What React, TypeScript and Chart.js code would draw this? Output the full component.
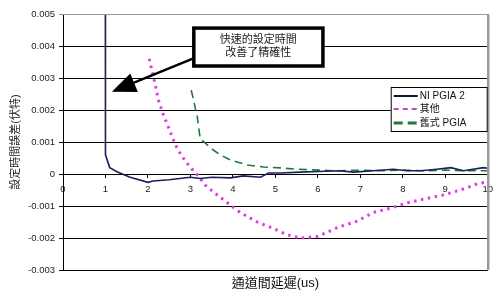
import React, { useEffect, useRef } from 'react';
import { Chart, registerables } from 'chart.js';

Chart.register(...registerables);

// ---- data ----
const X_MIN = 0;
const X_MAX = 10;
const Y_MIN = -0.003;
const Y_MAX = 0.005;
const Y_STEP = 0.001;

const seriesLabels = ['NI PGIA 2', '其他', '舊式 PGIA'];

const niX = [0.99, 1.0, 1.1, 1.27, 1.58, 2.0, 2.12, 2.5, 3.0, 3.23, 3.5, 3.94, 4.25, 4.65, 4.84, 5.12, 5.59, 6.0, 6.5, 6.84, 7.3, 7.78, 8.1, 8.42, 8.8, 9.13, 9.43, 9.9, 10];
const niY = [0.02, 0.0006, 0.0002, 0.00007, -0.0001, -0.00026, -0.00022, -0.00018, -0.0001, -0.00014, -0.0001, -0.00012, -0.00006, -0.0001, 0.00003, 0.00003, 0.00006, 0.00008, 0.0001, 0.00006, 0.0001, 0.00015, 0.0001, 0.0001, 0.00015, 0.0002, 0.0001, 0.0002, 0.00018];

const otherX = [2.03, 2.1, 2.17, 2.25, 2.35, 2.5, 2.65, 2.8, 3.0, 3.15, 3.35, 3.54, 3.87, 4.17, 4.57, 4.95, 5.28, 5.59, 6.0, 6.49, 6.93, 7.31, 7.71, 8.11, 8.5, 8.94, 9.36, 9.79, 10];
const otherY = [0.0036, 0.0032, 0.0028, 0.0023, 0.0019, 0.0014, 0.0009, 0.00055, 0.0002, 0.0, -0.00035, -0.00056, -0.0009, -0.0012, -0.0015, -0.0017, -0.0019, -0.002, -0.00195, -0.00166, -0.00147, -0.0012, -0.00107, -0.0009, -0.00078, -0.00066, -0.0005, -0.00029, -0.00025];

const oldX = [3.02, 3.16, 3.23, 3.54, 3.7, 3.94, 4.34, 4.72, 5.12, 5.5, 5.9, 6.4, 7.0, 7.5, 8.0, 8.5, 9.0, 9.5, 10];
const oldY = [0.00262, 0.0018, 0.0011, 0.00075, 0.0006, 0.00044, 0.00028, 0.00022, 0.00019, 0.00015, 0.00013, 0.0001, 0.00012, 0.0001, 0.00012, 0.0001, 0.00012, 0.0001, 0.0001];

const xTitle = '通道間延遲(us)';
const yTitle = '設定時間誤差(伏特)';
const calloutLines = ['快速的設定時間', '改善了精確性'];

// ---- styles ----
const LATIN = '"Liberation Sans", Arial, "Noto Sans CJK TC", sans-serif';
const CJK = '"Liberation Sans", "Noto Sans CJK TC", sans-serif';
const seriesColors = ['#1b1f5c', '#e03ae0', '#1f7a3c'];
const seriesDash: number[][] = [[], [2.5, 4.5], [8, 5]];
const seriesWidth = [1.6, 3, 1.6];
const legendColors = ['#101030', '#b050b8', '#1f7a3c'];
const legendDash: number[][] = [[], [5, 4], [9, 5]];
const legendWidth = [2, 2, 3];

const zip = (xs: number[], ys: number[]) => xs.map((x, i) => ({ x, y: ys[i] }));

const overlayPlugin = {
  id: 'overlay',
  afterDraw(chart: any) {
    const { ctx, chartArea } = chart;
    const { left, right, top, bottom } = chartArea;
    const xs = chart.scales.x;
    const ys = chart.scales.y;
    ctx.save();

    // plot area border (top / right, grey)
    ctx.strokeStyle = '#9a9a9a';
    ctx.lineWidth = 1;
    ctx.beginPath();
    ctx.moveTo(left, top + 0.5);
    ctx.lineTo(right, top + 0.5);
    ctx.stroke();
    ctx.lineWidth = 2.5;
    ctx.beginPath();
    ctx.moveTo(right + 0.5, top);
    ctx.lineTo(right + 0.5, bottom);
    ctx.stroke();

    // x axis title
    ctx.fillStyle = '#111';
    ctx.font = '13px ' + CJK;
    ctx.textAlign = 'center';
    ctx.textBaseline = 'middle';
    ctx.fillText(xTitle, (left + right) / 2, bottom + 13);

    // arrow
    const tailX = xs.getPixelForValue(3.1);
    const tailY = ys.getPixelForValue(0.00363);
    const tipX = xs.getPixelForValue(1.15);
    const tipY = ys.getPixelForValue(0.00257);
    const ang = Math.atan2(tipY - tailY, tipX - tailX);
    const headLen = 24;
    const headHalf = 10;
    const baseX = tipX - headLen * Math.cos(ang);
    const baseY = tipY - headLen * Math.sin(ang);
    ctx.strokeStyle = '#000';
    ctx.lineWidth = 2.5;
    ctx.beginPath();
    ctx.moveTo(tailX, tailY);
    ctx.lineTo(baseX, baseY);
    ctx.stroke();
    ctx.fillStyle = '#000';
    ctx.beginPath();
    ctx.moveTo(tipX, tipY);
    ctx.lineTo(baseX + headHalf * Math.sin(ang), baseY - headHalf * Math.cos(ang));
    ctx.lineTo(baseX - headHalf * Math.sin(ang), baseY + headHalf * Math.cos(ang));
    ctx.closePath();
    ctx.fill();

    // callout box
    const bx1 = xs.getPixelForValue(3.08);
    const bx2 = xs.getPixelForValue(6.12);
    const by1 = ys.getPixelForValue(0.00456);
    const by2 = ys.getPixelForValue(0.003375);
    ctx.fillStyle = '#fff';
    ctx.fillRect(bx1, by1, bx2 - bx1, by2 - by1);
    ctx.strokeStyle = '#000';
    ctx.lineWidth = 3.5;
    ctx.strokeRect(bx1, by1, bx2 - bx1, by2 - by1);
    ctx.fillStyle = '#222';
    ctx.font = '11px ' + CJK;
    ctx.textAlign = 'center';
    ctx.textBaseline = 'middle';
    const cx = (bx1 + bx2) / 2;
    ctx.fillText(calloutLines[0], cx, by1 + 12);
    ctx.fillText(calloutLines[1], cx, by1 + 25);

    // legend
    const lx1 = right - 97;
    const lx2 = right;
    const ly1 = top + 73;
    const ly2 = top + 118;
    ctx.fillStyle = '#fff';
    ctx.fillRect(lx1, ly1, lx2 - lx1, ly2 - ly1);
    ctx.strokeStyle = '#000';
    ctx.lineWidth = 1;
    ctx.strokeRect(lx1 + 0.5, ly1 + 0.5, lx2 - lx1 - 1, ly2 - ly1 - 1);
    ctx.font = '10px ' + LATIN;
    ctx.textAlign = 'left';
    ctx.textBaseline = 'middle';
    const rowYs = [ly1 + 9, ly1 + 22, ly1 + 36];
    seriesLabels.forEach((lab, i) => {
      const ry = rowYs[i];
      ctx.strokeStyle = legendColors[i];
      ctx.lineWidth = legendWidth[i];
      ctx.setLineDash(legendDash[i]);
      ctx.beginPath();
      ctx.moveTo(lx1 + 3, ry);
      ctx.lineTo(lx1 + 27, ry);
      ctx.stroke();
      ctx.setLineDash([]);
      ctx.fillStyle = '#111';
      ctx.fillText(lab, lx1 + 29, ry);
    });

    ctx.restore();
  },
};

export default function App() {
  const ref = useRef<HTMLCanvasElement | null>(null);

  useEffect(() => {
    if (!ref.current) return;
    const xsArr = [niX, otherX, oldX];
    const ysArr = [niY, otherY, oldY];
    const chart = new Chart(ref.current, {
      type: 'line',
      data: {
        datasets: seriesLabels.map((label, i) => ({
          label,
          data: zip(xsArr[i], ysArr[i]),
          borderColor: seriesColors[i],
          backgroundColor: seriesColors[i],
          borderWidth: seriesWidth[i],
          borderDash: seriesDash[i],
          pointRadius: 0,
          tension: 0,
          fill: false,
        })),
      },
      options: {
        responsive: false,
        animation: false,
        events: [],
        layout: { padding: { left: 0, right: 12, top: 14, bottom: 28 } },
        plugins: {
          legend: { display: false },
          tooltip: { enabled: false },
        },
        scales: {
          x: {
            type: 'linear',
            position: { y: 0 } as any,
            min: X_MIN,
            max: X_MAX,
            ticks: {
              stepSize: 1,
              color: '#222',
              padding: 7,
              font: { family: LATIN, size: 9.5 },
              maxRotation: 0,
            },
            grid: { display: true, drawOnChartArea: false, drawTicks: true, tickLength: 3, color: '#000' },
            border: { display: true, color: '#000', width: 1 },
          },
          y: {
            type: 'linear',
            min: Y_MIN,
            max: Y_MAX,
            afterFit: (scale: any) => {
              scale.width = 63;
            },
            ticks: {
              stepSize: Y_STEP,
              color: '#222',
              padding: 4,
              font: { family: LATIN, size: 9.5 },
              callback: (v: any) => {
                const n = Math.round(Number(v) * 1000) / 1000;
                return n === 0 ? '0' : n.toFixed(3);
              },
            },
            grid: {
              color: (c: any) => (c.tick && Math.abs(c.tick.value - Y_MAX) < 1e-9 ? '#9a9a9a' : '#000'),
              lineWidth: 1,
              drawTicks: true,
              tickLength: 4,
            },
            border: { display: true, color: '#000', width: 1 },
            title: {
              display: true,
              text: yTitle,
              color: '#222',
              font: { family: CJK, size: 11 },
              padding: { top: 9, bottom: 0 },
            },
          },
        },
      },
      plugins: [overlayPlugin],
    } as any);
    return () => chart.destroy();
  }, []);

  return (
    <div style={{ position: 'absolute', left: 0, top: 0, width: 500, height: 298, background: '#fff' }}>
      <canvas ref={ref} width={500} height={298} style={{ width: 500, height: 298, display: 'block' }} />
    </div>
  );
}
